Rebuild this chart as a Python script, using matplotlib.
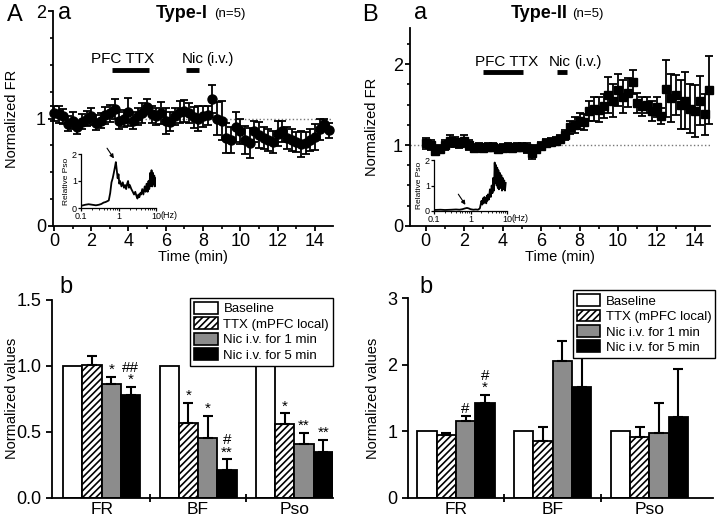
import matplotlib
matplotlib.use('Agg')
import matplotlib.pyplot as plt
from matplotlib.patches import Patch
from matplotlib.ticker import MultipleLocator, FixedLocator, NullFormatter

plt.rcParams['font.family'] = ['Liberation Sans', 'DejaVu Sans']
plt.rcParams['hatch.linewidth'] = 1.2

# ---------------- data ----------------
time_min = [0.0, 0.25, 0.5, 0.75, 1.0, 1.25, 1.5, 1.75, 2.0, 2.25,
            2.5, 2.75, 3.0, 3.25, 3.5, 3.75, 4.0, 4.25, 4.5, 4.75,
            5.0, 5.25, 5.5, 5.75, 6.0, 6.25, 6.5, 6.75, 7.0, 7.25,
            7.5, 7.75, 8.0, 8.25, 8.5, 8.75, 9.0, 9.25, 9.5, 9.75,
            10.0, 10.25, 10.5, 10.75, 11.0, 11.25, 11.5, 11.75, 12.0, 12.25,
            12.5, 12.75, 13.0, 13.25, 13.5, 13.75, 14.0, 14.25, 14.5, 14.75]

type1_fr = [1.05, 1.04, 1.02, 0.95, 0.98, 0.92, 0.97, 1.00, 1.02, 0.96,
            0.98, 1.03, 1.05, 1.09, 0.98, 1.00, 1.06, 0.98, 1.02, 1.05,
            1.11, 1.04, 1.02, 1.05, 0.98, 0.97, 1.02, 1.06, 1.07, 1.05,
            1.01, 1.00, 1.02, 1.03, 1.18, 1.00, 0.98, 0.82, 0.80, 0.92,
            0.88, 0.80, 0.77, 0.88, 0.85, 0.82, 0.80, 0.78, 0.86, 0.88,
            0.82, 0.80, 0.78, 0.76, 0.77, 0.80, 0.83, 0.90, 0.95, 0.89]
type1_err = [0.07, 0.08, 0.07, 0.07, 0.08, 0.06, 0.07, 0.07, 0.08, 0.07,
             0.07, 0.08, 0.08, 0.09, 0.08, 0.08, 0.13, 0.08, 0.08, 0.09,
             0.07, 0.08, 0.08, 0.10, 0.12, 0.09, 0.08, 0.10, 0.10, 0.09,
             0.10, 0.12, 0.10, 0.09, 0.13, 0.15, 0.18, 0.14, 0.12, 0.14,
             0.12, 0.13, 0.14, 0.10, 0.12, 0.10, 0.10, 0.10, 0.12, 0.10,
             0.10, 0.10, 0.09, 0.12, 0.10, 0.10, 0.12, 0.10, 0.05, 0.07]

type2_fr = [1.02, 1.00, 0.93, 0.95, 1.00, 1.05, 1.04, 1.02, 1.05, 1.00,
            0.96, 0.97, 0.96, 0.97, 0.98, 0.95, 0.96, 0.97, 0.96, 0.97,
            0.98, 0.96, 0.90, 0.95, 0.99, 1.02, 1.04, 1.05, 1.08, 1.12,
            1.22, 1.25, 1.30, 1.28, 1.42, 1.45, 1.44, 1.48, 1.62, 1.55,
            1.68, 1.60, 1.65, 1.78, 1.52, 1.48, 1.50, 1.42, 1.47, 1.36,
            1.70, 1.58, 1.62, 1.50, 1.55, 1.45, 1.42, 1.55, 1.38, 1.68]
type2_err = [0.07, 0.06, 0.06, 0.05, 0.06, 0.07, 0.06, 0.06, 0.07, 0.06,
             0.05, 0.05, 0.05, 0.05, 0.05, 0.05, 0.05, 0.05, 0.05, 0.05,
             0.05, 0.06, 0.07, 0.05, 0.05, 0.05, 0.05, 0.05, 0.05, 0.06,
             0.08, 0.10, 0.10, 0.10, 0.12, 0.15, 0.15, 0.15, 0.22, 0.20,
             0.20, 0.20, 0.18, 0.15, 0.12, 0.12, 0.10, 0.12, 0.12, 0.10,
             0.35, 0.30, 0.25, 0.30, 0.35, 0.30, 0.32, 0.30, 0.25, 0.42]

spec1_freq = [0.1, 0.13, 0.16, 0.2, 0.25, 0.3, 0.35, 0.4, 0.45, 0.5,
              0.55, 0.6, 0.65, 0.7, 0.75, 0.8, 0.85, 0.9, 0.95, 1.0,
              1.05, 1.1, 1.2, 1.3, 1.4, 1.5, 1.6, 1.7, 1.8, 1.9,
              2.0, 2.2, 2.4, 2.6, 2.8, 3.0, 3.2, 3.4, 3.6, 3.8,
              4.0, 4.3, 4.6, 5.0, 5.3, 5.6, 6.0, 6.3, 6.6, 7.0,
              7.3, 7.6, 8.0, 8.3, 8.6, 9.0, 9.3, 9.6]
spec1_pso = [0.08, 0.12, 0.14, 0.12, 0.10, 0.12, 0.15, 0.20, 0.22, 0.25,
             0.28, 0.55, 0.95, 1.10, 1.30, 1.50, 1.70, 1.40, 1.10, 1.25,
             0.90, 1.00, 0.80, 0.95, 0.75, 0.85, 0.70, 0.90, 1.00, 0.75,
             0.85, 0.70, 0.60, 0.50, 0.60, 0.45, 0.35, 0.50, 0.40, 0.55,
             0.50, 0.70, 0.50, 0.80, 0.60, 0.90, 0.60, 1.00, 0.70, 1.30,
             0.80, 1.40, 0.80, 1.30, 0.90, 1.20, 0.80, 1.10]

spec2_freq = [0.1, 0.15, 0.2, 0.3, 0.4, 0.5, 0.6, 0.7, 0.8, 0.9,
              1.0, 1.2, 1.4, 1.6, 1.8, 1.9, 2.0, 2.1, 2.2, 2.3,
              2.4, 2.5, 2.6, 2.7, 2.8, 2.9, 3.0, 3.2, 3.4, 3.6,
              3.8, 4.0, 4.2, 4.4, 4.6, 4.8, 5.0, 5.2, 5.4, 5.6,
              5.8, 6.0, 6.3, 6.6, 7.0, 7.3, 7.6, 8.0, 8.4, 8.8, 9.2]
spec2_pso = [0.04, 0.05, 0.04, 0.05, 0.06, 0.05, 0.07, 0.10, 0.12, 0.10,
             0.07, 0.05, 0.06, 0.05, 0.10, 0.25, 0.40, 0.25, 0.50, 0.30,
             0.55, 0.35, 0.50, 0.30, 0.60, 0.40, 0.65, 0.45, 0.85, 0.55,
             1.00, 0.70, 1.30, 0.80, 1.90, 1.10, 1.80, 1.00, 1.70, 0.90,
             1.60, 0.85, 1.50, 0.90, 1.40, 0.80, 1.30, 0.85, 1.20, 0.80, 1.10]

categories = ['FR', 'BF', 'Pso']
conditions = ['Baseline', 'TTX (mPFC local)', 'Nic i.v. for 1 min', 'Nic i.v. for 5 min']

t1_baseline = [1.0, 1.0, 1.0]
t1_ttx = [1.01, 0.57, 0.56]
t1_nic1 = [0.86, 0.45, 0.41]
t1_nic5 = [0.78, 0.21, 0.35]
t1_ttx_err = [0.065, 0.15, 0.08]
t1_nic1_err = [0.055, 0.17, 0.08]
t1_nic5_err = [0.06, 0.08, 0.09]
t1_marks = {(0, 2): '*', (0, 3): '##\n*', (1, 1): '*', (1, 2): '*', (1, 3): '#\n**',
            (2, 1): '*', (2, 2): '**', (2, 3): '**'}

t2_baseline = [1.0, 1.0, 1.0]
t2_ttx = [0.94, 0.86, 0.91]
t2_nic1 = [1.16, 2.05, 0.97]
t2_nic5 = [1.42, 1.66, 1.22]
t2_ttx_err = [0.035, 0.21, 0.16]
t2_nic1_err = [0.07, 0.31, 0.45]
t2_nic5_err = [0.125, 0.46, 0.71]
t2_marks = {(0, 2): '#', (0, 3): '#\n*'}

# ---------------- figure ----------------
W, H = 720, 520
fig = plt.figure(figsize=(7.2, 5.2), dpi=100)


def px_axes(left, right, bottom, top, **kw):
    return fig.add_axes([left / W, (H - bottom) / H, (right - left) / W, (bottom - top) / H], **kw)


def clean(ax, lw=1.3):
    for s in ['top', 'right']:
        ax.spines[s].set_visible(False)
    for s in ['left', 'bottom']:
        ax.spines[s].set_linewidth(lw)
    ax.tick_params(direction='out', width=lw)


def timeseries(ax, y, err, marker, ms):
    ax.axhline(1, color='#777777', ls=':', lw=1.0, zorder=0)
    ax.errorbar(time_min, y, yerr=err, fmt=marker, color='k', ms=ms, capsize=3.2,
                elinewidth=1.3, capthick=1.3, mec='k', mfc='k', clip_on=False, zorder=3)
    clean(ax)
    ax.xaxis.set_major_locator(MultipleLocator(2))
    ax.xaxis.set_minor_locator(MultipleLocator(1))
    ax.yaxis.set_major_locator(FixedLocator([0, 1, 2]))
    ax.yaxis.set_minor_locator(MultipleLocator(0.25))
    ax.tick_params(labelsize=13, length=3.5, pad=1.5)
    ax.tick_params(which='minor', length=2.5, width=1.2)
    ax.set_ylabel('Normalized FR', fontsize=10.5)


# ---- A a ----
axA = px_axes(53, 333, 226, 11)
timeseries(axA, type1_fr, type1_err, 'o', 6.5)
axA.set_xlim(-0.05, 14.97)
axA.set_ylim(0, 2)
axA.plot([3.1, 5.1], [1.45, 1.45], color='k', lw=3.5, solid_capstyle='butt')
axA.plot([7.1, 7.8], [1.45, 1.45], color='k', lw=3.5, solid_capstyle='butt')
axA.text(3.7, 1.55, 'PFC TTX', fontsize=11, ha='center', va='center')
axA.text(7.45, 1.55, 'Nic', fontsize=11, ha='center', va='center')
axA.text(8.15, 1.55, '(i.v.)', fontsize=10.5, ha='left', va='center')
axA.yaxis.set_label_coords(-(53 - 19) / 280, 0.5)
axA.set_xlabel('Time (min)', fontsize=10.5, labelpad=0)

# ---- B a ----
axB = px_axes(410, 710, 225.7, 28)
timeseries(axB, type2_fr, type2_err, 's', 5.5)
axB.set_xlim(-0.82, 14.78)
axB.set_ylim(0, 2.45)
axB.plot([2.98, 5.05], [1.9, 1.9], color='k', lw=3.5, solid_capstyle='butt')
axB.plot([6.8, 7.35], [1.9, 1.9], color='k', lw=3.5, solid_capstyle='butt')
axB.text(4.2, 2.03, 'PFC TTX', fontsize=11, ha='center', va='center')
axB.text(6.95, 2.03, 'Nic', fontsize=11, ha='center', va='center')
axB.text(7.7, 2.03, '(i.v.)', fontsize=10.5, ha='left', va='center')
axB.yaxis.set_label_coords(-(410 - 379) / 300, 0.5)
axB.set_xlabel('Time (min)', fontsize=10.5, labelpad=0.5)


# ---- insets ----
def inset(ax, f, p):
    ax.set_facecolor('none')
    ax.plot(f, p, color='k', lw=1.3)
    ax.set_xscale('log')
    ax.set_xlim(0.1, 10)
    ax.set_ylim(0, 2)
    clean(ax, lw=0.9)
    ax.set_xticks([0.1, 1, 10])
    ax.set_xticklabels(['0.1', '1', '10'])
    ax.xaxis.set_minor_formatter(NullFormatter())
    ax.set_yticks([0, 1, 2])
    ax.tick_params(labelsize=6.5, length=2, pad=1)
    ax.tick_params(which='minor', length=1.2, width=0.6)
    ax.set_ylabel('Relative Pso', fontsize=6, labelpad=1)
    ax.text(1.06, -0.06, '(Hz)', transform=ax.transAxes, fontsize=6.5, ha='left', va='top')


inA = px_axes(81, 156, 208, 154)
inset(inA, spec1_freq, spec1_pso)
inA.annotate('', xy=(0.83, 1.75), xytext=(0.45, 2.3),
             arrowprops=dict(arrowstyle='-|>', color='k', lw=0.8, mutation_scale=6), annotation_clip=False)

inB = px_axes(434, 507, 211, 160)
inset(inB, spec2_freq, spec2_pso)
inB.annotate('', xy=(0.8, 0.15), xytext=(0.42, 0.75),
             arrowprops=dict(arrowstyle='-|>', color='k', lw=0.8, mutation_scale=6))


# ---- bar charts ----
def bars(ax, series, errs, marks):
    fills = [dict(facecolor='white', hatch=None),
             dict(facecolor='white', hatch='/////'),
             dict(facecolor='#8c8c8c', hatch=None),
             dict(facecolor='black', hatch=None)]
    for k, vals in enumerate(series):
        xs = [5 * g + k + 0.5 for g in range(len(categories))]
        ax.bar(xs, vals, width=1.0, edgecolor='k', linewidth=1.3, zorder=2, **fills[k])
        if errs[k] is not None:
            ax.errorbar(xs, vals, yerr=[[0] * len(vals), errs[k]], fmt='none', ecolor='k',
                        elinewidth=1.5, capsize=3.6, capthick=1.5, zorder=3)
    for (g, k), txt in marks.items():
        x = 5 * g + k + 0.5
        top = series[k][g] + (errs[k][g] if errs[k] is not None else 0)
        ax.annotate(txt, xy=(x, top), xytext=(0, 0), textcoords='offset points',
                    ha='center', va='bottom', fontsize=11, linespacing=0.85)
    clean(ax)
    ax.set_xticks([5 * g + 2 for g in range(len(categories))])
    ax.set_xticklabels(categories, fontsize=12.5)
    ax.tick_params(axis='x', which='major', length=0, pad=3)
    ax.xaxis.set_minor_locator(FixedLocator([4.5, 9.5]))
    ax.tick_params(axis='x', which='minor', direction='inout', length=6, width=1.3)
    ax.tick_params(axis='y', labelsize=13, length=4)
    ax.set_ylabel('Normalized values', fontsize=10.5)
    handles = [Patch(edgecolor='k', linewidth=1.2, **fills[k]) for k in range(4)]
    return handles


leg_kw = dict(loc='upper right', fontsize=9.5, frameon=True, fancybox=False, edgecolor='k',
              framealpha=1, borderpad=0.3, labelspacing=0.15, handlelength=1.8,
              handleheight=1.0, handletextpad=0.4, borderaxespad=0)

axC = px_axes(52, 333, 497.7, 300)
hC = bars(axC, [t1_baseline, t1_ttx, t1_nic1, t1_nic5],
          [None, t1_ttx_err, t1_nic1_err, t1_nic5_err], t1_marks)
axC.set_xlim(-0.58, 14.0)
axC.set_ylim(0, 1.5)
axC.set_yticks([0, 0.5, 1.0, 1.5])
axC.set_yticklabels(['0.0', '0.5', '1.0', '1.5'])
axC.yaxis.set_label_coords(-(52 - 19) / 281, 0.5)
legC = axC.legend(hC, conditions, bbox_to_anchor=(1.0, 1.01), **leg_kw)
legC.get_frame().set_linewidth(1.0)

axD = px_axes(408, 713, 497.7, 298.3)
hD = bars(axD, [t2_baseline, t2_ttx, t2_nic1, t2_nic5],
          [None, t2_ttx_err, t2_nic1_err, t2_nic5_err], t2_marks)
axD.set_xlim(-0.48, 15.3)
axD.set_ylim(0, 3)
axD.set_yticks([0, 1, 2, 3])
axD.yaxis.set_label_coords(-(408 - 380) / 305, 0.5)
legD = axD.legend(hD, conditions, bbox_to_anchor=(1.007, 1.04), **leg_kw)
legD.get_frame().set_linewidth(1.0)


# ---- panel letters and titles ----
def ftxt(x, y, s, **kw):
    fig.text(x / W, 1 - y / H, s, **kw)


ftxt(15, 15, 'A', fontsize=17, ha='center', va='center')
ftxt(65, 13, 'a', fontsize=17, ha='center', va='center')
ftxt(370, 15, 'B', fontsize=17, ha='center', va='center')
ftxt(421, 13, 'a', fontsize=17, ha='center', va='center')
ftxt(66, 287, 'b', fontsize=17, ha='center', va='center')
ftxt(426, 287, 'b', fontsize=17, ha='center', va='center')
ftxt(208, 13, 'Type-I', fontsize=13, fontweight='bold', ha='right', va='center')
ftxt(214, 14, '(n=5)', fontsize=9.5, ha='left', va='center')
ftxt(568, 13, 'Type-II', fontsize=13, fontweight='bold', ha='right', va='center')
ftxt(572, 14, '(n=5)', fontsize=9.5, ha='left', va='center')

fig.savefig('out.png', dpi=100)
